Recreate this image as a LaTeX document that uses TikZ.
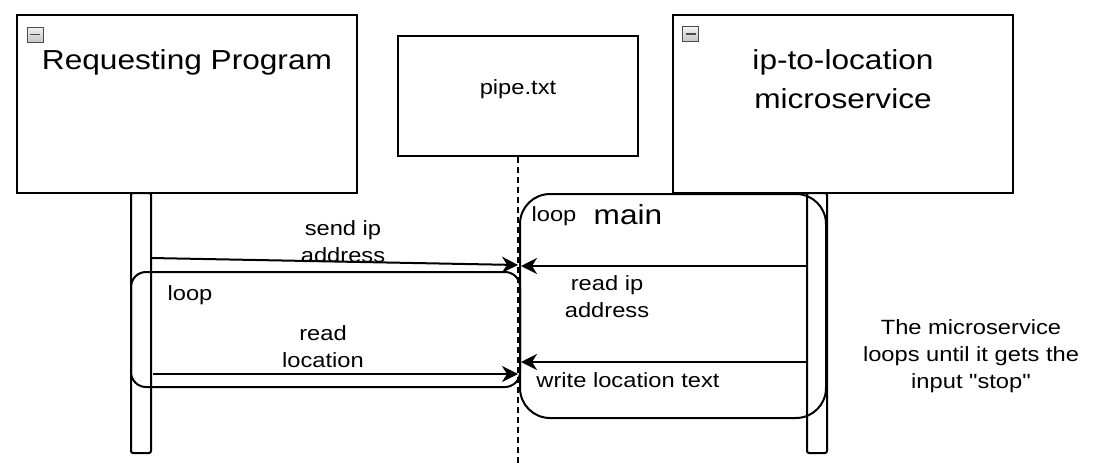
\documentclass[tikz,border=0pt]{standalone}
\usepackage{fontspec}
\setmainfont{Liberation Sans}[FakeStretch=1.15, Ligatures=TeXOff]
\usetikzlibrary{arrows.meta}
\begin{document}
\begin{tikzpicture}[x=1pt,y=-1pt,
  box/.style={draw, line width=2pt, fill=white, inner sep=0pt},
  bar/.style={draw, line width=2pt, fill=white, rounded corners=2pt, inner sep=0pt, minimum width=20pt, minimum height=260pt},
  loopframe/.style={draw, line width=2pt, rounded corners=#1, inner sep=0pt},
  msg/.style={line width=2pt, -{Stealth[length=16pt,width=16pt,inset=5pt]}},
  big/.style={font=\fontsize{27.5}{39}\selectfont, align=center, inner sep=0pt},
  txt/.style={font=\fontsize{20.6}{27}\selectfont, align=center, inner sep=0pt},
  icon/.style={draw=gray!60!black, line width=0.7pt, top color=gray!10, bottom color=gray!45, minimum width=16pt, minimum height=15pt, inner sep=0pt,
    path picture={\draw[line width=1.8pt] ([xshift=-5pt]path picture bounding box.center) -- ([xshift=5pt]path picture bounding box.center);}},
  lifeline/.style={line width=2pt, dash pattern=on 6pt off 4pt}
]
\useasboundingbox (0,0) rectangle (1108,466);

% activation bars
\node[bar] (rpbar) at (141,323) {};
\node[bar] (msbar) at (817,323) {};

% header boxes
\node[box, minimum width=340pt, minimum height=178pt] (rp) at (187,104) {};
\node[box, minimum width=240pt, minimum height=120pt] (pipe) at (518,96) {};
\node[box, minimum width=340pt, minimum height=178pt] (ms) at (843,104) {};

\node[icon] (ic1) at (35,34.5) {};
\node[icon] (ic2) at (690.5,34) {};

\node[big] (rptxt) at (187,62) {Requesting Program};
\node[txt] (pipetxt) at (518,89) {pipe.txt};
\node[big] (mstxt) at (843,79) {ip-to-location\\microservice};

% pipe lifeline
\coordinate (pipeend) at (518,466);
\draw[lifeline] (pipe.south) -- (pipeend);

% loop frames
\node[loopframe=30pt, minimum width=306pt, minimum height=224pt] (mainloop) at (673,306) {};
\node[loopframe=15pt, minimum width=389pt, minimum height=115pt] (innerloop) at (325.5,329.5) {};

\node[txt] (loop1) at (554,216) {loop};
\node[big] (maintxt) at (628,215) {main};
\node[txt] (loop2) at (190,295) {loop};

% messages
\coordinate (s1) at (151,258);
\coordinate (e1) at (518,265);
\draw[msg] (s1) -- (e1);
\node[txt] (l1) at (343,242) {send ip\\address};

\coordinate (s2) at (807,266);
\coordinate (e2) at (521,266);
\draw[msg] (s2) -- (e2);
\node[txt] (l2) at (607,297) {read ip\\address};

\coordinate (s3) at (807,362);
\coordinate (e3) at (521,362);
\draw[msg] (s3) -- (e3);
\node[txt] (l3) at (628,380) {write location text};

\coordinate (s4) at (153,374);
\coordinate (e4) at (518,374);
\draw[msg] (s4) -- (e4);
\node[txt] (l4) at (323,347) {read\\location};

\node[txt] (note) at (971,356) {The microservice\\loops until it gets the\\input "stop"};
\end{tikzpicture}
\end{document}
